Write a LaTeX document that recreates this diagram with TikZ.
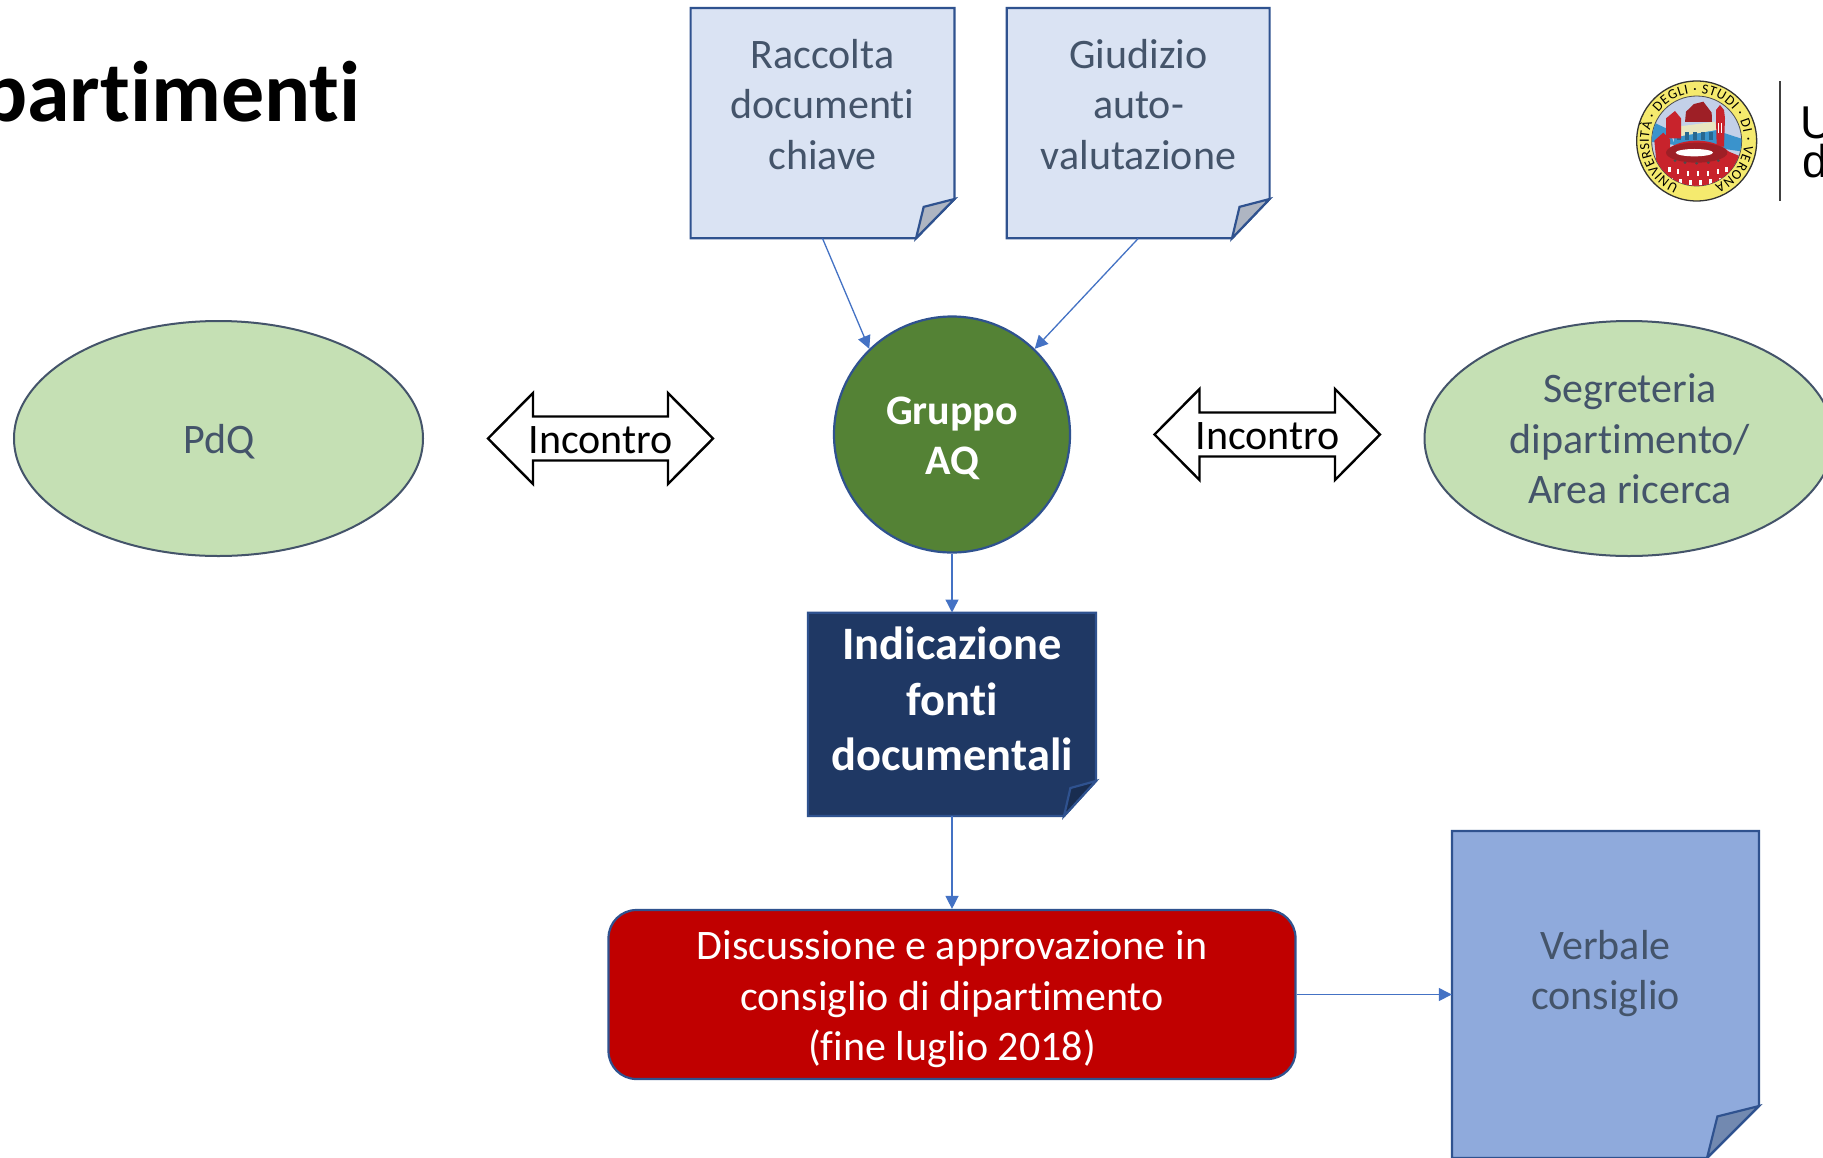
\documentclass[tikz,border=0pt]{standalone}
\usepackage{fontspec}
\setmainfont[Ligatures=NoCommon]{Carlito}
\newfontfamily\logofont{Liberation Sans}
\newfontfamily\sealfont{Carlito}
\usetikzlibrary{shapes.geometric,arrows.meta,decorations.text}
\definecolor{slatetext}{HTML}{44546A}
\definecolor{docedge}{HTML}{2F528F}
\definecolor{linkblue}{HTML}{4472C4}
\definecolor{palenote}{HTML}{DAE3F3}
\definecolor{palefold}{HTML}{AEB5C2}
\definecolor{darknote}{HTML}{1F3864}
\definecolor{darkfold}{HTML}{192D50}
\definecolor{midnote}{HTML}{8FAADC}
\definecolor{midfold}{HTML}{7289B0}
\definecolor{leaf}{HTML}{548235}
\definecolor{palegreen}{HTML}{C5E0B4}
\definecolor{deepred}{HTML}{C00000}
\definecolor{sealyellow}{HTML}{F5EA6E}
\definecolor{sealsky}{HTML}{C3D0E8}
\definecolor{sealblue}{HTML}{3A93CC}
\definecolor{sealred}{HTML}{C8232C}
\definecolor{sealdark}{HTML}{9E1F26}
\definecolor{sealpale}{HTML}{E9E6C0}
\tikzset{
  docline/.style={draw=docedge,line width=2.2pt,line join=miter},
  bodyfont/.style={font=\fontsize{42}{50.5}\selectfont,align=center},
  boldfont/.style={font=\fontsize{42}{50.5}\selectfont\bfseries,align=center},
  box/.style={shape=rectangle,inner sep=0pt},
  oval/.style={shape=ellipse,inner sep=0pt,draw=slatetext,line width=2pt,fill=palegreen,minimum width=409pt,minimum height=235pt},
  link/.style={draw=linkblue,line width=1.3pt,-{Triangle[length=13pt,width=13pt]},shorten >=0pt},
  meetarrow/.style={draw=black,line width=2.4pt,fill=white,line join=miter},
}
\newcommand\foldnote[9]{%
  \filldraw[docline,fill=#8] (#2,#3) -- (#4,#3) -- (#4,#7) -- (#6,#5) -- (#2,#5) -- cycle;
  \filldraw[docline,fill=#9] (#4,#7) -- ({#6+0.2*(#4-#6)},{#7+0.2*(#5-#7)}) -- (#6,#5) -- cycle;
  \pgfmathsetmacro\fnw{#4-#2}\pgfmathsetmacro\fnh{#5-#3}
  \pgfmathsetmacro\fnx{(#2+#4)/2}\pgfmathsetmacro\fny{(#3+#5)/2}
  \node[box,minimum width=\fnw pt,minimum height=\fnh pt] (#1) at (\fnx,\fny) {};
}
\newcommand\meetshape[3]{% left tip x, right tip x, centre y
  \filldraw[meetarrow] (#1,#3) -- ({#1+45},{#3-45.5}) -- ({#1+45},{#3-22}) -- ({#2-45},{#3-22}) -- ({#2-45},{#3-45.5})
    -- (#2,#3) -- ({#2-45},{#3+45.5}) -- ({#2-45},{#3+22}) -- ({#1+45},{#3+22}) -- ({#1+45},{#3+45.5}) -- cycle;
}
\begin{document}
\begin{tikzpicture}[x=1pt,y=-1pt]
\path[use as bounding box] (0,0) rectangle (1823,1157);
\clip (0,0) rectangle (1823,1157);
\fill[white] (0,0) rectangle (1823,1157);

\node[anchor=base east,inner sep=0pt,font=\fontsize{86}{100}\selectfont\bfseries] (title) at (361,121) {partimenti};

% notes
\foldnote{raccolta}{690.6}{8}{954.5}{238.3}{916}{199}{palenote}{palefold}
\node[bodyfont,text=slatetext] (raccoltat) at (822.5,104.5) {Raccolta\\documenti\\chiave};
\foldnote{giudizio}{1006.8}{8}{1269.6}{238.3}{1232}{199}{palenote}{palefold}
\node[bodyfont,text=slatetext] (giudiziot) at (1138.5,104.5) {Giudizio\\auto-\\valutazione};
\foldnote{fonti}{808}{612.7}{1096}{816}{1064}{781}{darknote}{darkfold}
\node[font=\fontsize{46.5}{55.8}\selectfont\bfseries,align=center,text=white] (fontit) at (952,699) {Indicazione\\fonti\\documentali};
\foldnote{verbale}{1452}{831}{1759}{1158}{1707}{1106}{midnote}{midfold}
\node[bodyfont,text=slatetext] (verbalet) at (1605.5,973.5) {Verbale\\consiglio};

% ovals and circle
\node[oval] (pdq) at (218.5,438.5) {};
\node[bodyfont,text=slatetext,inner sep=0pt] (pdqt) at (219,441.5) {PdQ};
\node[oval] (segreteria) at (1629,438.5) {};
\node[bodyfont,text=slatetext,inner sep=0pt] (segreteriat) at (1630,439) {Segreteria\\dipartimento/\\Area ricerca};
\node[shape=circle,inner sep=0pt,minimum size=236pt,draw=docedge,line width=2.2pt,fill=leaf] (aq) at (952,434.5) {};
\node[boldfont,text=white,inner sep=0pt] (aqt) at (952,438.5) {Gruppo\\AQ};

% discussion box
\node[box,rounded corners=28pt,minimum width=687pt,minimum height=169pt,draw=docedge,line width=2.2pt,fill=deepred] (discussione) at (952,994.5) {};
\node[bodyfont,text=white,inner sep=0pt] (discussionet) at (952,999.5) {Discussione e approvazione in\\consiglio di dipartimento\\(fine luglio 2018)};

% incontro arrows
\meetshape{488}{713}{438.5}
\node[bodyfont,text=black,inner sep=0pt] (incontroa) at (600.5,440) {Incontro};
\meetshape{1154.5}{1380}{434.5}
\node[bodyfont,text=black,inner sep=0pt] (incontrob) at (1267.5,436.5) {Incontro};

% connectors
\draw[link] (raccolta.south) -- (aq.134);
\draw[link] (giudizio.south) -- (aq.46);
\draw[link] (aq.south) -- (fonti.north);
\draw[link] (fonti.south) -- (discussione.north);
\draw[link] (discussione.east) -- (verbale.west);

% logo: vertical rule and clipped wordmark
\draw[line width=1.5pt,draw=black!75] (1780,81) -- (1780,201);
\node[anchor=base west,inner sep=0pt,font=\logofont\fontsize{46}{46}\selectfont] (logou) at (1800,138) {U};
\node[anchor=base west,inner sep=0pt,font=\logofont\fontsize{46}{46}\selectfont] (logod) at (1802,177) {d};

% seal (coordinates of the 3x crop)
\begin{scope}[shift={(1600,50)},x=0.3333pt,y=-0.3333pt]
  \filldraw[fill=sealyellow,draw=black!80,line width=1.3pt] (290,273) circle[radius=180];
  \draw[draw=black!70,line width=0.8pt,fill=sealsky] (290,273) circle[radius=135];
  \begin{scope}
    \clip (290,273) circle[radius=134];
    \fill[sealblue] (150,212) -- (205,238) -- (225,285) -- (150,275) -- cycle;
    \fill[sealblue] (360,245) -- (430,268) -- (430,305) -- (360,295) -- cycle;
    \fill[sealblue] (222,240) rectangle (352,290);
    \fill[sealdark] (255,216) -- (258,185) -- (282,162) -- (310,155) -- (335,188) -- (336,216) -- cycle;
    \fill[sealpale] (218,232) -- (345,215) -- (350,240) -- (222,262) -- cycle;
    \foreach \a in {232,256,280,304,328} \fill[sealblue!70!black] (\a,245) rectangle +(12,24);
    \fill[sealred] (198,205) -- (225,183) -- (243,205) -- (243,265) -- (198,265) -- cycle;
    \fill[sealred] (163,272) -- (190,248) -- (210,268) -- (210,345) -- (170,345) -- cycle;
    \fill[sealred] (348,180) -- (360,165) -- (372,180) -- (375,205) -- (372,290) -- (350,290) -- (348,205) -- cycle;
    \fill[white] (354,220) rectangle (358,250);
    \fill[white] (362,220) rectangle (366,250);
    \fill[sealred] (375,300) -- (418,318) -- (410,370) -- (370,400) -- cycle;
    \fill[sealred] (290,340) ellipse[x radius=112,y radius=68];
    \fill[sealred] (178,340) rectangle (402,420);
    \fill[sealdark] (290,308) ellipse[x radius=92,y radius=30];
    \fill[white] (283,308) ellipse[x radius=56,y radius=11];
    \foreach \a/\b in {225/332,255/338,290/340,325/338,355/332} \fill[black!70] (\a,\b) ellipse[x radius=5,y radius=4];
    \foreach \a/\b in {205/352,230/358,260/362,290/364,320/362,350/358,375/352} \fill[white] (\a,\b) rectangle +(8,15);
    \foreach \a/\b in {210/384,238/388,268/390,298/390,328/388,358/384} \fill[white] (\a,\b) rectangle +(8,15);
  \end{scope}
  \path[postaction={decorate},decoration={text along path,text align=fit to path,
     text={|\sealfont\fontsize{14}{15}\selectfont|UNIVERSITÀ · DEGLI · STUDI · DI · VERONA}}]
     (290,273) ++(112:143) arc[start angle=112,end angle=428,radius=143];
\end{scope}
\end{tikzpicture}
\end{document}
